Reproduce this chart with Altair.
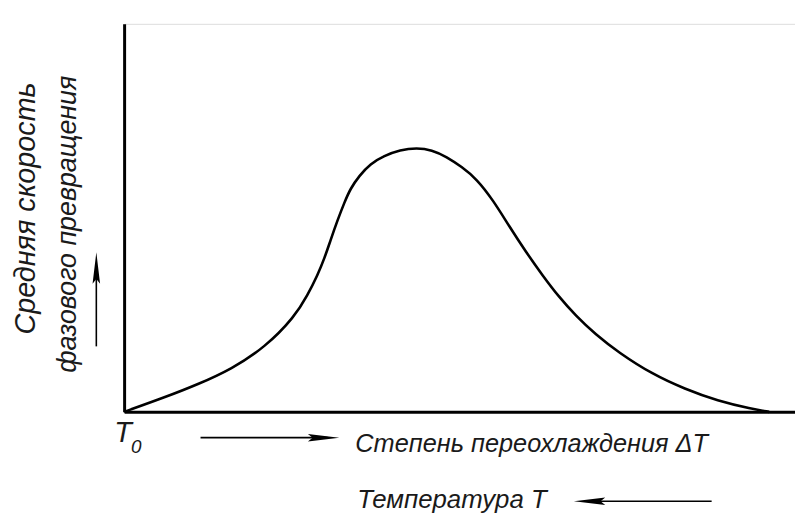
import altair as alt
import pandas as pd

# Curve: undercooling (arbitrary units, 0..100 across plot) vs average transformation rate (0..100)
undercooling = [0, 6.19, 11.06, 15.93, 20.94, 25.37, 27.29, 28.76, 29.79, 30.68, 31.71, 32.74,
                33.63, 34.96, 36.58, 38.64, 41.00, 43.51, 45.72, 47.94, 50.15, 52.36, 54.87,
                57.23, 59.73, 62.24, 64.60, 67.11, 70.06, 73.45, 78.47, 83.33, 88.20, 93.22, 95.87]
rate = [0, 3.84, 7.16, 11.00, 16.62, 24.55, 30.18, 35.29, 39.64, 44.25, 49.36, 53.96,
        57.54, 60.87, 63.94, 65.98, 67.52, 68.03, 67.52, 65.73, 63.17, 60.10, 54.48,
        47.83, 41.18, 35.04, 29.67, 24.81, 19.95, 15.35, 9.72, 5.88, 2.81, 0.77, 0]

df = pd.DataFrame({"dT": undercooling, "v": rate})

W, H = 676, 391
FONT = "Liberation Sans, Arial, sans-serif"
INK = "#1a1a1a"

xs = alt.Scale(domain=[0, 100 * W / 678], nice=False, zero=False)
ys = alt.Scale(domain=[0, 100], nice=False)

curve = alt.Chart(df).mark_line(color="black", strokeWidth=2.6, interpolate="basis").encode(
    x=alt.X("dT:Q", scale=xs, axis=alt.Axis(domain=True, domainColor="black", domainWidth=3,
                                            ticks=False, labels=False, grid=False, title=None)),
    y=alt.Y("v:Q", scale=ys, axis=alt.Axis(domain=True, domainColor="black", domainWidth=3,
                                           ticks=False, labels=False, grid=False, title=None)),
)

def txt(label, x, y, size=26, angle=0, align="left", baseline="alphabetic"):
    return alt.Chart(pd.DataFrame({"t": [label]})).mark_text(
        font=FONT, fontSize=size, fontStyle="italic", color=INK, angle=angle,
        align=align, baseline=baseline
    ).encode(text="t:N", x=alt.value(x), y=alt.value(y))

def rule(x1, y1, x2, y2, w=1.6):
    return alt.Chart(pd.DataFrame({"a": [0]})).mark_rule(color="black", strokeWidth=w).encode(
        x=alt.value(x1), y=alt.value(y1), x2=alt.value(x2), y2=alt.value(y2))

HEAD_R = "M 1 0 L -1 -0.24 L -0.7 0 L -1 0.24 Z"
HEAD_L = "M -1 0 L 1 -0.24 L 0.7 0 L 1 0.24 Z"
HEAD_U = "M 0 -1 L -0.24 1 L 0 0.7 L 0.24 1 Z"

def head(shape, x, y, size=1000):
    return alt.Chart(pd.DataFrame({"a": [0]})).mark_point(
        shape=shape, filled=True, color="black", size=size, opacity=1, strokeWidth=0
    ).encode(x=alt.value(x), y=alt.value(y))

ox, oy = 125, 22  # plot origin on the page

layers = [
    curve,
    # bottom texts
    txt("Степень переохлаждения ΔT", 358 - ox, 453 - oy, size=25.5),
    txt("Температура T", 360 - ox, 510 - oy, size=26),
    txt("T", 115 - ox, 443 - oy, size=29),
    txt("0", 132 - ox, 454 - oy, size=19),
    # y-axis texts
    txt("Средняя скорость", 26 - ox, 208 - oy, size=29, angle=270, align="center", baseline="middle"),
    txt("фазового превращения", 69 - ox, 224 - oy, size=27, angle=270, align="center", baseline="middle"),
    # arrows
    rule(202 - ox, 439 - oy, 330 - ox, 439 - oy),
    head(HEAD_R, 326 - ox, 439 - oy),
    rule(590 - ox, 503 - oy, 717 - ox, 503 - oy),
    head(HEAD_L, 594 - ox, 503 - oy),
    rule(97 - ox, 347 - oy, 97 - ox, 272 - oy),
    head(HEAD_U, 97 - ox, 268 - oy),
]

chart = alt.layer(*layers).properties(
    width=W, height=H,
    padding={"left": ox - 8, "top": oy - 8, "right": 0, "bottom": 105},
    autosize=alt.AutoSizeParams(type="none"),
).configure_view(stroke=None).configure(background="white")

chart.save("out.html", embed_options={"renderer": "svg", "actions": False})
